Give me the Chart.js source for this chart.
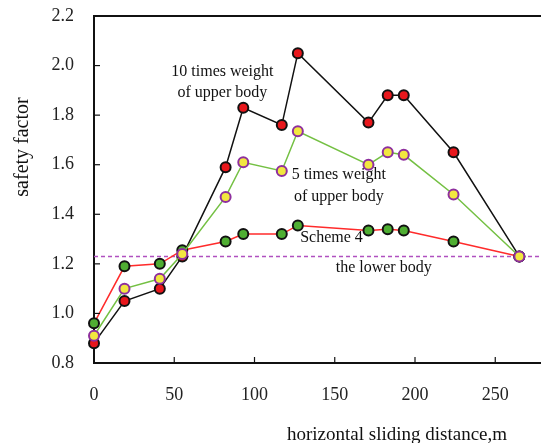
<!DOCTYPE html>
<html>
<head>
<meta charset="utf-8">
<script src="https://cdn.jsdelivr.net/npm/chart.js"></script>
<style>
  html, body { margin: 0; padding: 0; background: #fff; }
</style>
</head>
<body>
<canvas id="myChart" width="541" height="443"></canvas>
<script>
// horizontal sliding distance (m)
const distance = [0, 19, 41, 55, 82, 93, 117, 127, 171, 183, 193, 224, 265];
// safety factor for each case
const tenTimes  = [0.88, 1.05, 1.10, 1.23, 1.59, 1.83, 1.76, 2.05, 1.77, 1.88, 1.88, 1.65, 1.23];
const fiveTimes = [0.91, 1.10, 1.14, 1.24, 1.47, 1.61, 1.575, 1.735, 1.60, 1.65, 1.64, 1.48, 1.23];
const scheme4   = [0.96, 1.19, 1.20, 1.255, 1.29, 1.32, 1.32, 1.355, 1.335, 1.34, 1.335, 1.29, 1.23];
const lowerBody = 1.23;

const xTicks = [0, 50, 100, 150, 200, 250];
const yTicks = [0.8, 1.0, 1.2, 1.4, 1.6, 1.8, 2.0, 2.2];

// curve labels: [text lines, x, y] in data units
const notes = [
  [['10 times weight', 'of upper body'], 80, 1.975],
  [['5 times weight', 'of upper body'], 152.5, 1.558],
  [['Scheme 4'], 148, 1.305],
  [['the lower body'], 180.5, 1.184]
];

const pts = (arr) => arr.map((v, i) => ({ x: distance[i], y: v }));

Chart.defaults.font.family = "'Liberation Serif', 'DejaVu Serif', serif";
Chart.defaults.color = '#222';

const extras = {
  id: 'extras',
  afterDraw(chart) {
    const { ctx, chartArea: a, scales: { x, y } } = chart;
    ctx.save();
    ctx.strokeStyle = '#111';
    ctx.lineWidth = 2;
    ctx.beginPath();
    ctx.moveTo(a.left - 1, a.top);
    ctx.lineTo(a.right, a.top);
    ctx.stroke();

    // inward tick marks
    ctx.lineWidth = 1.2;
    x.ticks.forEach(t => {
      const px = x.getPixelForValue(t.value);
      ctx.beginPath(); ctx.moveTo(px, a.bottom); ctx.lineTo(px, a.bottom - 6); ctx.stroke();
    });
    y.ticks.forEach(t => {
      const py = y.getPixelForValue(t.value);
      ctx.beginPath(); ctx.moveTo(a.left, py); ctx.lineTo(a.left + 6, py); ctx.stroke();
    });

    ctx.fillStyle = '#111';
    ctx.textAlign = 'center';
    ctx.textBaseline = 'middle';
    ctx.font = "16px 'Liberation Serif'";
    notes.forEach(n => {
      const px = x.getPixelForValue(n[1]);
      const py = y.getPixelForValue(n[2]);
      n[0].forEach((line, i) => ctx.fillText(line, px, py + i * 21.5));
    });

    ctx.font = "19px 'Liberation Serif'";
    ctx.fillText('horizontal sliding distance,m', 397, 435);
    ctx.font = "20px 'Liberation Serif'";
    ctx.translate(22.5, 147);
    ctx.rotate(-Math.PI / 2);
    ctx.fillText('safety factor', 0, 0);
    ctx.restore();
  }
};

new Chart(document.getElementById('myChart'), {
  type: 'line',
  data: {
    datasets: [{
      label: '5 times weight of upper body',
      data: pts(fiveTimes),
      borderColor: '#74c043',
      borderWidth: 1.5,
      pointRadius: 5,
      pointBorderWidth: 2,
      pointBackgroundColor: '#f2e73f',
      pointBorderColor: '#8e2f9e',
      tension: 0,
      clip: false
    }, {
      label: 'Scheme 4',
      data: pts(scheme4),
      borderColor: '#ff2b2b',
      borderWidth: 1.5,
      pointRadius: 5,
      pointBorderWidth: 2,
      pointBackgroundColor: '#4fae32',
      pointBorderColor: '#111',
      tension: 0,
      clip: false
    }, {
      label: '10 times weight of upper body',
      data: pts(tenTimes),
      borderColor: '#111',
      borderWidth: 1.5,
      pointRadius: 5,
      pointBorderWidth: 2,
      pointBackgroundColor: '#e8171c',
      pointBorderColor: '#111',
      tension: 0,
      clip: false
    }, {
      label: 'the lower body',
      data: [{ x: 0, y: lowerBody }, { x: 278.5, y: lowerBody }],
      borderColor: '#b050c0',
      borderWidth: 1.5,
      borderDash: [4, 3],
      pointRadius: 0
    }]
  },
  options: {
    responsive: false,
    animation: false,
    events: [],
    layout: { autoPadding: false, padding: { top: 16, right: 0, left: 0, bottom: 0 } },
    plugins: { legend: { display: false }, tooltip: { enabled: false } },
    scales: {
      x: {
        type: 'linear',
        min: 0,
        max: 278.5,
        afterFit: (s) => { s.height = 80; s.paddingLeft = 0; s.paddingRight = 0; },
        afterBuildTicks: (s) => { s.ticks = xTicks.map(v => ({ value: v })); },
        grid: { display: false, drawTicks: false },
        border: { display: true, color: '#111', width: 2 },
        ticks: { font: { size: 18 }, color: '#222', padding: 21, maxRotation: 0 }
      },
      y: {
        min: 0.8,
        max: 2.2,
        afterFit: (s) => { s.width = 94; s.paddingTop = 0; s.paddingBottom = 0; },
        afterBuildTicks: (s) => { s.ticks = yTicks.map(v => ({ value: v })); },
        grid: { display: false, drawTicks: false },
        border: { display: true, color: '#111', width: 2 },
        ticks: { font: { size: 18 }, color: '#222', padding: 20, callback: v => v.toFixed(1) }
      }
    }
  },
  plugins: [extras]
});
</script>
</body>
</html>
